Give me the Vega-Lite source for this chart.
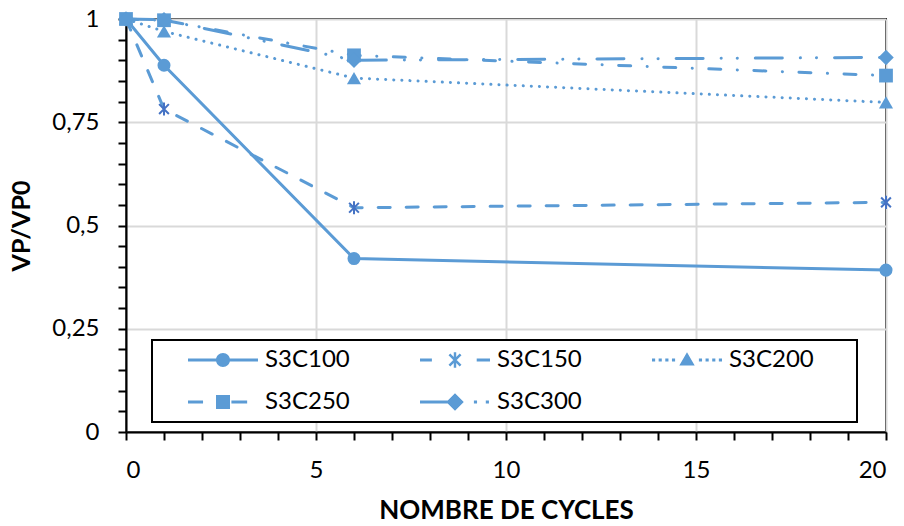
{
  "$schema": "https://vega.github.io/schema/vega-lite/v6.json",
  "width": 760,
  "height": 413,
  "autosize": {"type": "none"},
  "padding": {"left": 126, "top": 19, "right": 18, "bottom": 94},
  "background": "white",
  "config": {
    "view": {"stroke": "black", "strokeWidth": 2},
    "font": "Lato",
    "legend": {"strokeWidth": 2}
  },
  "data": {
    "values": [
      {"series": "S3C100", "cycles": 0, "vp": 1.0},
      {"series": "S3C100", "cycles": 1, "vp": 0.888},
      {"series": "S3C100", "cycles": 6, "vp": 0.42},
      {"series": "S3C100", "cycles": 20, "vp": 0.392},
      {"series": "S3C150", "cycles": 0, "vp": 1.0},
      {"series": "S3C150", "cycles": 1, "vp": 0.782},
      {"series": "S3C150", "cycles": 6, "vp": 0.543},
      {"series": "S3C150", "cycles": 20, "vp": 0.556},
      {"series": "S3C200", "cycles": 0, "vp": 1.0},
      {"series": "S3C200", "cycles": 1, "vp": 0.97},
      {"series": "S3C200", "cycles": 6, "vp": 0.857},
      {"series": "S3C200", "cycles": 20, "vp": 0.798},
      {"series": "S3C250", "cycles": 0, "vp": 1.0},
      {"series": "S3C250", "cycles": 1, "vp": 0.997},
      {"series": "S3C250", "cycles": 6, "vp": 0.912},
      {"series": "S3C250", "cycles": 20, "vp": 0.863},
      {"series": "S3C300", "cycles": 0, "vp": 1.0},
      {"series": "S3C300", "cycles": 1, "vp": 0.998},
      {"series": "S3C300", "cycles": 6, "vp": 0.9},
      {"series": "S3C300", "cycles": 20, "vp": 0.907}
    ]
  },
  "encoding": {
    "x": {
      "field": "cycles",
      "type": "quantitative",
      "scale": {"domain": [0, 20]},
      "axis": {
        "title": "NOMBRE DE CYCLES",
        "titleFont": "Lato",
        "titleFontSize": 26,
        "titleFontWeight": "bold",
        "titleColor": "black",
        "titlePadding": 15,
        "values": [0,1,2,3,4,5,6,7,8,9,10,11,12,13,14,15,16,17,18,19,20],
        "labelExpr": "datum.value % 5 === 0 ? datum.label : ''",
        "labelFont": "Lato",
        "labelFontSize": 24,
        "labelColor": "black",
        "labelPadding": 18,
        "tickSize": 8,
        "tickWidth": 2,
        "tickColor": "black",
        "domainColor": "black",
        "domainWidth": 2,
        "grid": true,
        "gridColor": "#D9D9D9",
        "gridWidth": 2,
        "gridOpacity": {"condition": {"test": "datum.value % 5 === 0", "value": 1}, "value": 0}
      }
    },
    "y": {
      "field": "vp",
      "type": "quantitative",
      "scale": {"domain": [0, 1]},
      "axis": {
        "title": "VP/VP0",
        "titleFont": "Lato",
        "titleFontSize": 25,
        "titleFontWeight": "bold",
        "titleColor": "black",
        "titlePadding": 17,
        "values": [0,0.05,0.1,0.15,0.2,0.25,0.3,0.35,0.4,0.45,0.5,0.55,0.6,0.65,0.7,0.75,0.8,0.85,0.9,0.95,1],
        "labelExpr": "abs(datum.value*4 - round(datum.value*4)) < 0.001 ? replace(format(datum.value, ''), '.', ',') : ''",
        "labelFont": "Lato",
        "labelFontSize": 24,
        "labelColor": "black",
        "labelPadding": 19,
        "tickSize": 8,
        "tickWidth": 2,
        "tickColor": "black",
        "domainColor": "black",
        "domainWidth": 2,
        "grid": true,
        "gridColor": "#D9D9D9",
        "gridWidth": 2,
        "gridOpacity": {"condition": {"test": "abs(datum.value*4 - round(datum.value*4)) < 0.001", "value": 1}, "value": 0}
      }
    }
  },
  "layer": [
    {
      "transform": [{"filter": "datum.series == 'S3C100'"}],
      "mark": {"type": "line", "strokeWidth": 3, "strokeCap": "round", "color": "#5B9BD5"}
    },
    {
      "transform": [{"filter": "datum.series == 'S3C150'"}],
      "mark": {"type": "line", "strokeWidth": 3, "strokeCap": "round", "color": "#5B9BD5", "strokeDash": [12, 16]}
    },
    {
      "transform": [{"filter": "datum.series == 'S3C200'"}],
      "mark": {"type": "line", "strokeWidth": 3, "strokeCap": "round", "color": "#5B9BD5", "strokeDash": [0.1, 8]}
    },
    {
      "transform": [{"filter": "datum.series == 'S3C250'"}],
      "mark": {"type": "line", "strokeWidth": 3, "strokeCap": "round", "color": "#5B9BD5", "strokeDash": [12, 16.5, 0.1, 16.5]}
    },
    {
      "transform": [{"filter": "datum.series == 'S3C300'"}],
      "mark": {"type": "line", "strokeWidth": 3, "strokeCap": "round", "color": "#5B9BD5", "strokeDash": [27, 18, 0.1, 16, 0.1, 18]}
    },
    {
      "transform": [{"filter": "datum.cycles == 0"}],
      "mark": {"type": "point", "filled": true, "opacity": 1, "size": 1, "color": "#5B9BD5"},
      "encoding": {
        "shape": {
          "field": "series",
          "type": "nominal",
          "scale": {
            "domain": ["S3C100", "S3C150", "S3C200", "S3C250", "S3C300"],
            "range": [
              "M-1,-0.045L-0.19,-0.045L-0.19,0.045L-1,0.045ZM0.19,-0.045L1,-0.045L1,0.045L0.19,0.045ZM-0.2,0A0.2,0.2,0,1,1,0.2,0A0.2,0.2,0,1,1,-0.2,0Z",
              "M-1,-0.045L-0.66,-0.045L-0.66,0.045L-1,0.045ZM0.62,-0.045L1,-0.045L1,0.045L0.62,0.045ZM-0.035,-0.22L0.035,-0.22L0.035,0.22L-0.035,0.22ZM-0.135,-0.185L0.185,0.135L0.135,0.185L-0.185,-0.135ZM-0.135,0.185L-0.185,0.135L0.135,-0.185L0.185,-0.135Z",
              "M-1,-0.045L-0.91,-0.045L-0.91,0.045L-1,0.045ZM-0.81,-0.045L-0.72,-0.045L-0.72,0.045L-0.81,0.045ZM-0.62,-0.045L-0.53,-0.045L-0.53,0.045L-0.62,0.045ZM-0.43,-0.045L-0.34,-0.045L-0.34,0.045L-0.43,0.045ZM0.34,-0.045L0.43,-0.045L0.43,0.045L0.34,0.045ZM0.53,-0.045L0.62,-0.045L0.62,0.045L0.53,0.045ZM0.72,-0.045L0.81,-0.045L0.81,0.045L0.72,0.045ZM0.91,-0.045L1,-0.045L1,0.045L0.91,0.045ZM0,-0.22L0.22,0.16L-0.22,0.16Z",
              "M-1,-0.045L-0.57,-0.045L-0.57,0.045L-1,0.045ZM0.24,-0.045L0.69,-0.045L0.69,0.045L0.24,0.045ZM-0.2,-0.2L0.2,-0.2L0.2,0.2L-0.2,0.2Z",
              "M-1,-0.045L0,-0.045L0,0.045L-1,0.045ZM0.54,-0.045L0.63,-0.045L0.63,0.045L0.54,0.045ZM0.88,-0.045L0.97,-0.045L0.97,0.045L0.88,0.045ZM0,-0.25L0.25,0L0,0.25L-0.25,0Z"
            ]
          },
          "legend": {
            "title": "\u00a0",
            "titleOrient": "right",
            "titlePadding": 35,
            "titleFontSize": 10,
            "orient": "none",
            "legendX": 26,
            "legendY": 321,
            "direction": "horizontal",
            "columns": 3,
            "symbolSize": 4900,
            "symbolOffset": 28,
            "labelOffset": 7,
            "clipHeight": 24,
            "rowPadding": 18,
            "columnPadding": 42,
            "padding": 8,
            "strokeColor": "black",
            "fillColor": "white",
            "labelFont": "Lato",
            "labelFontSize": 24,
            "labelColor": "black",
            "symbolOpacity": 1,
            "symbolFillColor": "#5B9BD5",
            "symbolStrokeColor": "transparent",
            "symbolStrokeWidth": 0
          }
        }
      }
    },
    {
      "transform": [{"filter": "datum.series == 'S3C100'"}],
      "mark": {"type": "point", "shape": "circle", "filled": true, "opacity": 1, "size": 170, "color": "#5B9BD5"}
    },
    {
      "transform": [{"filter": "datum.series == 'S3C150'"}],
      "mark": {"type": "point", "shape": "M0,-1L0,1M-0.75,-0.75L0.75,0.75M-0.75,0.75L0.75,-0.75", "filled": false, "opacity": 1, "size": 170, "strokeWidth": 2, "color": "#4472C4"}
    },
    {
      "transform": [{"filter": "datum.series == 'S3C200'"}],
      "mark": {"type": "point", "shape": "triangle-up", "filled": true, "opacity": 1, "size": 200, "color": "#5B9BD5"}
    },
    {
      "transform": [{"filter": "datum.series == 'S3C250'"}],
      "mark": {"type": "point", "shape": "square", "filled": true, "opacity": 1, "size": 190, "color": "#5B9BD5"}
    },
    {
      "transform": [{"filter": "datum.series == 'S3C300'"}],
      "mark": {"type": "point", "shape": "diamond", "filled": true, "opacity": 1, "size": 240, "color": "#5B9BD5"}
    }
  ]
}
